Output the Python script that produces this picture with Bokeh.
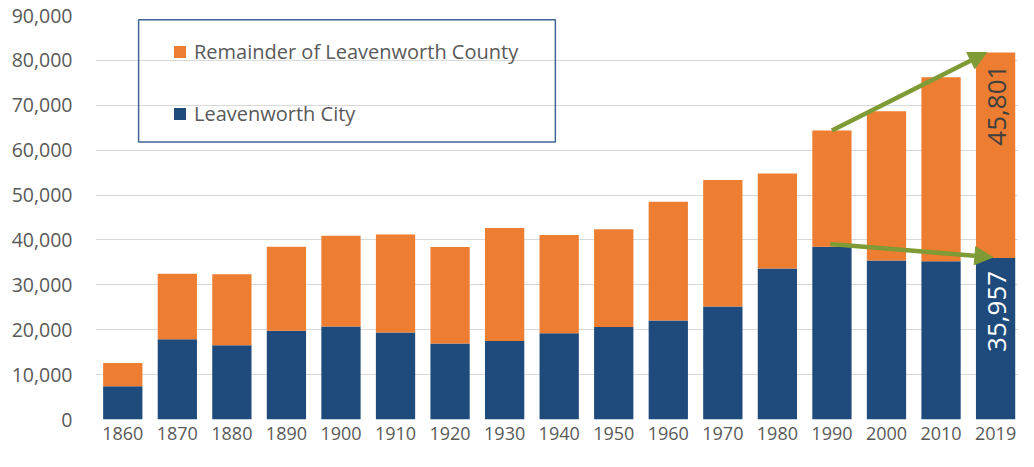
import math
from bokeh.plotting import figure
from bokeh.models import (ColumnDataSource, Range1d, FixedTicker, Legend, LegendItem,
                          BoxAnnotation, Arrow, NormalHead, NumeralTickFormatter)
from bokeh.core.properties import value
from bokeh.embed import file_html
from bokeh.resources import INLINE

# ---- data ----
years = ["1860", "1870", "1880", "1890", "1900", "1910", "1920", "1930", "1940",
         "1950", "1960", "1970", "1980", "1990", "2000", "2010", "2019"]
city = [7429, 17873, 16546, 19768, 20735, 19363, 16912, 17466, 19220,
        20579, 22052, 25147, 33656, 38495, 35420, 35251, 35957]
remainder = [5177, 14571, 15809, 18717, 20205, 21844, 21490, 25207, 21892,
             21782, 26472, 28193, 21153, 25876, 33271, 40976, 45801]
y_ticks = [0, 10000, 20000, 30000, 40000, 50000, 60000, 70000, 80000, 90000]

BLUE = "#1F4A7C"
ORANGE = "#ED7D31"
OLIVE = "#7E9B35"
GRAY = "#595959"
FONT = "Open Sans"

idx = list(range(len(years)))
total = [c + r for c, r in zip(city, remainder)]
src = ColumnDataSource(dict(x=idx, city=city, remainder=remainder, total=total))

p = figure(width=1018, height=451, output_backend="svg", toolbar_location=None,
           x_range=Range1d(-0.5, 16.42), y_range=Range1d(0, 90000))
p.min_border_top = 15
p.min_border_right = 0
p.min_border_bottom = 32
p.min_border_left = 95
p.outline_line_color = None
p.background_fill_color = "white"

# axes
p.xaxis.ticker = FixedTicker(ticks=idx)
p.xaxis.major_label_overrides = {i: y for i, y in zip(idx, years)}
p.yaxis.ticker = FixedTicker(ticks=y_ticks)
p.yaxis.formatter = NumeralTickFormatter(format="0,0")
for ax in (p.xaxis[0], p.yaxis[0]):
    ax.axis_line_color = None
    ax.major_tick_line_color = None
    ax.minor_tick_line_color = None
    ax.major_tick_out = 0
    ax.major_tick_in = 0
    ax.major_label_text_font = FONT
    ax.major_label_text_color = GRAY
p.xaxis.major_label_text_font_size = "18px"
p.yaxis.major_label_text_font_size = "19.5px"
p.yaxis.major_label_standoff = 23
p.xaxis.major_label_standoff = 7
p.xgrid.grid_line_color = None
p.ygrid.ticker = FixedTicker(ticks=y_ticks)
p.ygrid.grid_line_color = "#D9D9D9"
p.ygrid.grid_line_width = 1

bw = 0.72
r_city = p.vbar(x="x", top="city", bottom=0, width=bw, source=src,
                fill_color=BLUE, line_color=None)
r_rem = p.vbar(x="x", top="total", bottom="city", width=bw, source=src,
               fill_color=ORANGE, line_color=None)

# legend box
box = BoxAnnotation(left=0.29, right=7.93, top=89050, bottom=61840,
                    fill_color=None, fill_alpha=0, line_color="#3E6498",
                    line_width=1.5, line_alpha=1, level="overlay")
p.add_layout(box)

legend = Legend(items=[LegendItem(label="Remainder of Leavenworth County", renderers=[r_rem]),
                       LegendItem(label="Leavenworth City", renderers=[r_city])],
                location=(77, 292), orientation="vertical",
                border_line_color=None, background_fill_alpha=0,
                padding=0, spacing=35, glyph_width=15, glyph_height=15,
                label_height=24, label_standoff=7,
                label_text_font=FONT, label_text_font_size="20px",
                label_text_color=GRAY, label_text_baseline="middle")
p.add_layout(legend)

# arrows
last = len(years) - 1
i90 = years.index("1990")
p.add_layout(Arrow(end=NormalHead(size=18, fill_color=OLIVE, line_color=OLIVE),
                   x_start=i90, y_start=total[i90], x_end=last - 0.16, y_end=total[last],
                   line_color=OLIVE, line_width=4.5))
p.add_layout(Arrow(end=NormalHead(size=18, fill_color=OLIVE, line_color=OLIVE),
                   x_start=i90 - 0.03, y_start=city[i90] + 600, x_end=last - 0.05,
                   y_end=city[last] + 200,
                   line_color=OLIVE, line_width=4.5))

# rotated value labels on the last bar
lab = ColumnDataSource(dict(
    x=[last + 0.03, last + 0.03],
    y=[city[last] + remainder[last] * 0.744, city[last] * 0.67],
    t=[f"{remainder[last]:,}", f"{city[last]:,}"],
    c=["#404040", "white"]))
p.text(x="x", y="y", text="t", source=lab, angle=math.pi / 2,
       text_align="center", text_baseline="middle", text_color="c",
       text_font=value(FONT), text_font_size="26px")

open("out.html", "w").write(file_html(p, INLINE))
